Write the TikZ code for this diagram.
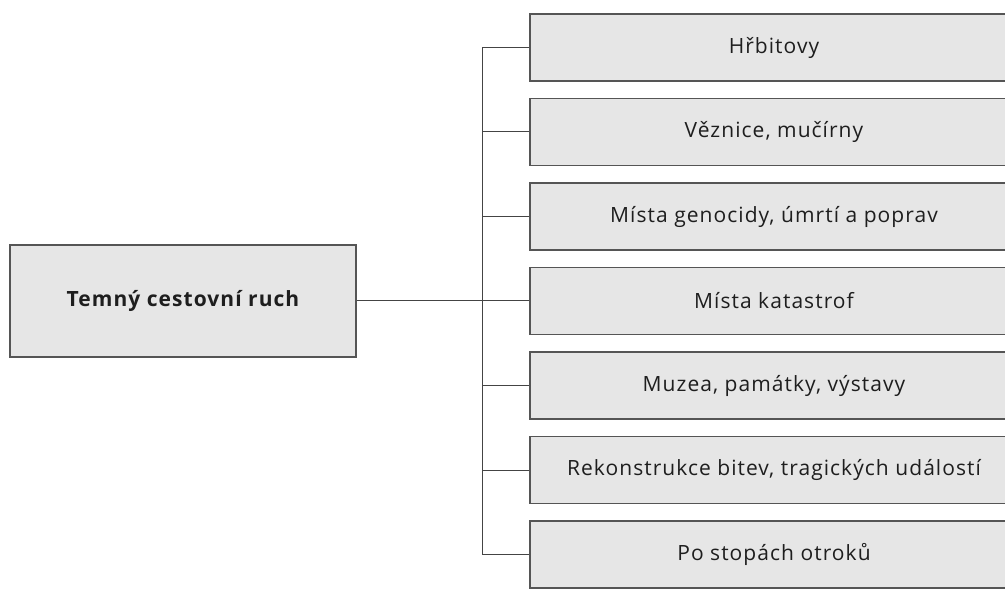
\documentclass[tikz,border=0pt]{standalone}
\usepackage{fontspec}
\setmainfont{Open Sans}[LetterSpace=5]
\usetikzlibrary{positioning}
\definecolor{boxfill}{HTML}{E6E6E6}
\definecolor{boxline}{HTML}{555555}
\definecolor{wire}{HTML}{444444}
\definecolor{ink}{HTML}{1E1E1E}

\begin{document}
\begin{tikzpicture}[node distance=84.5pt,
box/.style={rectangle,draw=boxline,line width=1.3pt,fill=boxfill,text=ink,
 font=\fontsize{21}{25}\selectfont,minimum height=67pt},
sub box/.style={box,minimum width=488pt},
root box/.style={box,minimum width=346pt,minimum height=112pt,font=\fontsize{21}{25}\selectfont\bfseries}]
\useasboundingbox (0,0) rectangle (1005pt,590pt);
\clip (0,0) rectangle (1005pt,590pt);

\node[root box] (root) at (183pt,289pt) {Temný cestovní ruch};

\node[sub box] (s1) at (774pt,542.5pt) {Hřbitovy};
\node[sub box] (s2) [below of=s1] {Věznice, mučírny};
\node[sub box] (s3) [below of=s2] {Místa genocidy, úmrtí a poprav};
\node[sub box] (s4) [below of=s3] {Místa katastrof};
\node[sub box] (s5) [below of=s4] {Muzea, památky, výstavy};
\node[sub box] (s6) [below of=s5] {Rekonstrukce bitev, tragických událostí};
\node[sub box] (s7) [below of=s6] {Po stopách otroků};

\coordinate (spine) at (482pt,0);
\draw[wire,line width=1pt] (root.east) -- (root.east -| s4.west);
\draw[wire,line width=1pt] (s1.west) -- (s1.west -| spine) -- (s7.west -| spine) -- (s7.west);
\foreach \i in {2,...,6}
  \draw[wire,line width=1pt] (s\i.west) -- (s\i.west -| spine);
\end{tikzpicture}
\end{document}
